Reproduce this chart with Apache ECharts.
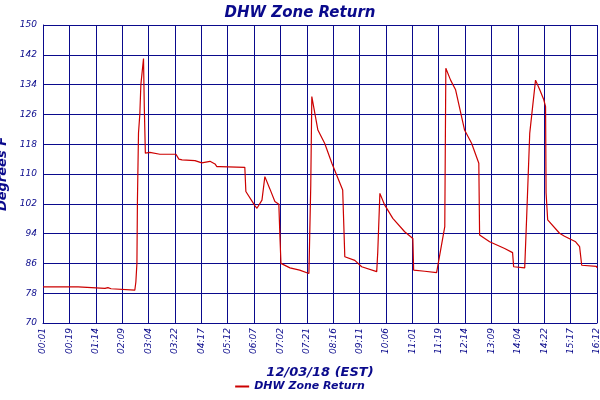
<!DOCTYPE html>
<html><head><meta charset="utf-8">
<script src="https://cdn.jsdelivr.net/npm/echarts@6/dist/echarts.min.js"></script>
<style>html,body{margin:0;padding:0;background:#fff}#c{width:600px;height:400px}</style>
</head><body><div id="c"></div>
<script>
const tickLabels = ["00:01","00:19","01:14","02:09","03:04","03:22","04:17","05:12","06:07","07:02","07:21","08:16","09:11","10:06","11:01","11:19","12:14","13:09","14:04","14:22","15:17","16:12"];
const xs = [0,1.33,1.36,2.35,2.46,2.58,2.61,3.48,3.52,3.56,3.58,3.62,3.67,3.71,3.81,3.84,3.88,4.05,4.43,5.04,5.15,5.27,5.76,6.02,6.33,6.52,6.59,6.70,7.65,7.69,8.03,8.11,8.30,8.41,8.60,8.79,8.94,8.98,9.02,9.36,9.73,10.08,10.15,10.19,10.42,10.68,10.95,11.36,11.44,11.82,12.08,12.65,12.69,12.77,12.95,13.26,13.71,14.02,14.05,14.47,14.92,15.23,15.27,15.45,15.64,15.98,16.25,16.52,16.55,16.93,17.50,17.80,17.84,18.26,18.33,18.45,18.56,18.67,18.83,18.98,19.05,19.07,19.13,19.58,19.77,20.19,20.34,20.42,20.98,21];
const temps = [79.7,79.7,79.4,79.3,79.5,79.2,78.8,78.8,81,86,103,121,126,134,141,128,115.6,115.8,115.3,115.3,114,113.8,113.6,113,113.4,112.7,112,112,111.8,105.3,101.5,100.8,103,109.3,106,102.6,101.9,93.5,86,84.8,84.2,83.3,107,130.8,121.8,118.2,112.9,105.7,87.8,86.8,85.1,83.8,89.1,104.8,101.7,98.1,94.5,92.7,84.2,83.9,83.5,95.9,138.4,135.2,132.6,121.8,118.2,112.9,93.6,91.8,90,88.9,85.1,84.8,97.7,120.9,128.1,135.2,132.6,130,128.1,104.9,97.7,94.1,93.3,91.8,90.5,85.5,85.2,84.8];
const seriesName = "DHW Zone Return";
const navy = "#0a0a8c";
const chart = echarts.init(document.getElementById('c'));
chart.setOption({
  animation:false,
  title:{text:seriesName,left:'center',top:1,textStyle:{fontFamily:'DejaVu Sans',fontStyle:'italic',fontWeight:'bold',fontSize:15,color:navy}},
  grid:{left:43,right:3,top:25,bottom:77,containLabel:false,outerBoundsMode:'none'},
  xAxis:{type:'value',min:0,max:21,interval:1,
    name:'12/03/18 (EST)',nameLocation:'middle',nameGap:43,
    nameTextStyle:{fontFamily:'DejaVu Sans',fontStyle:'italic',fontWeight:'bold',fontSize:13,color:navy},
    axisLine:{lineStyle:{color:navy}},axisTick:{show:false},
    splitLine:{show:true,lineStyle:{color:navy,width:1}},
    axisLabel:{rotate:90,fontSize:9,fontStyle:'italic',color:navy,fontFamily:'DejaVu Sans',margin:5,
      formatter:v=>tickLabels[Math.round(v)]||''}},
  yAxis:{type:'value',min:70,max:150,interval:8,
    name:'Degrees F',nameLocation:'middle',nameGap:30,
    nameTextStyle:{fontFamily:'DejaVu Sans',fontStyle:'italic',fontWeight:'bold',fontSize:13,color:navy},
    axisLine:{show:true,lineStyle:{color:navy}},axisTick:{show:false},
    splitLine:{show:true,lineStyle:{color:navy,width:1}},
    axisLabel:{fontSize:9,fontStyle:'italic',color:navy,fontFamily:'DejaVu Sans',margin:6}},
  legend:{bottom:3,left:'center',icon:'rect',itemWidth:14,itemHeight:2,
    textStyle:{fontFamily:'DejaVu Sans',fontStyle:'italic',fontWeight:'bold',fontSize:11,color:navy},
    data:[seriesName]},
  series:[{name:seriesName,type:'line',showSymbol:false,color:'#cc0000',lineStyle:{width:1.2,color:'#cc0000'},
    data:xs.map((x,i)=>[x,temps[i]])}]
});
</script></body></html>
